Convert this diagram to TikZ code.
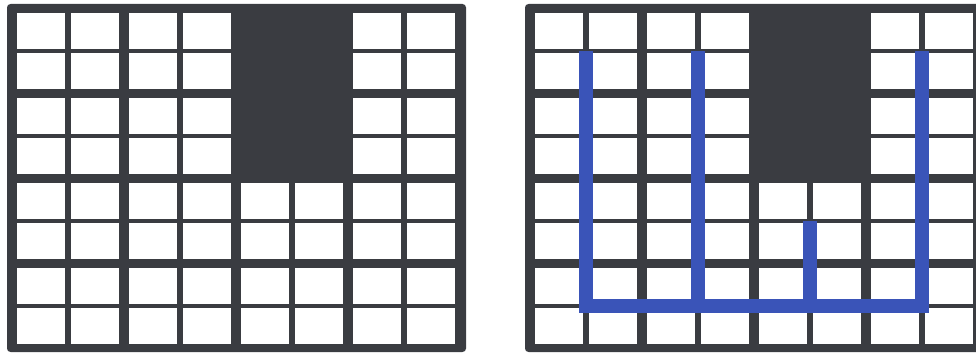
\documentclass[tikz,border=0pt]{standalone}
\usepackage{tikz}
\definecolor{clrFrame}{RGB}{58,60,65}
\definecolor{clrRoute}{RGB}{58,84,184}
\tikzset{
  frame/.style={fill=clrFrame,draw=none,rounded corners=2pt},
  cell/.style={rectangle,fill=white,draw=none,inner sep=0pt,outer sep=0pt,
    minimum width=0.96cm,minimum height=0.72cm},
  route/.style={draw=clrRoute,line width=0.28cm}
}

\begin{document}
\begin{tikzpicture}[x=0.02cm,y=-0.02cm]
  \fill[white] (0,0) rectangle (976,354);
  \useasboundingbox (0,0) rectangle (976,354);
  \clip (0,0) rectangle (976,354);

  % two grids, the second shifted to the right
  \foreach \g/\dx in {L/0,R/518} {
    \draw[frame] (7+\dx,4) rectangle (466+\dx,352);
    \foreach \c in {0,...,7} {
      \foreach \r in {0,...,7} {
        \pgfmathsetmacro{\cx}{\dx+41+112*int(\c/2)+54*mod(\c,2)}
        \pgfmathsetmacro{\cy}{31+85*int(\r/2)+40*mod(\r,2)}
        \pgfmathtruncatemacro{\isdark}{((\c==4)||(\c==5))&&(\r<4)}
        \ifnum\isdark=0
          \node[cell] (\g-\r-\c) at (\cx,\cy) {};
        \fi
      }
    }
  }

  % route in the right grid
  \coordinate (t1) at (586,51);
  \coordinate (t2) at (698,51);
  \coordinate (t3) at (810,221);
  \coordinate (t4) at (922,51);
  \coordinate (b1) at (586,306);
  \coordinate (b2) at (698,306);
  \coordinate (b3) at (810,306);
  \coordinate (b4) at (922,306);

  \draw[route] (t1) -- (b1) -- (b4) -- (t4);
  \draw[route] (t2) -- (b2);
  \draw[route] (t3) -- (b3);
\end{tikzpicture}
\end{document}
